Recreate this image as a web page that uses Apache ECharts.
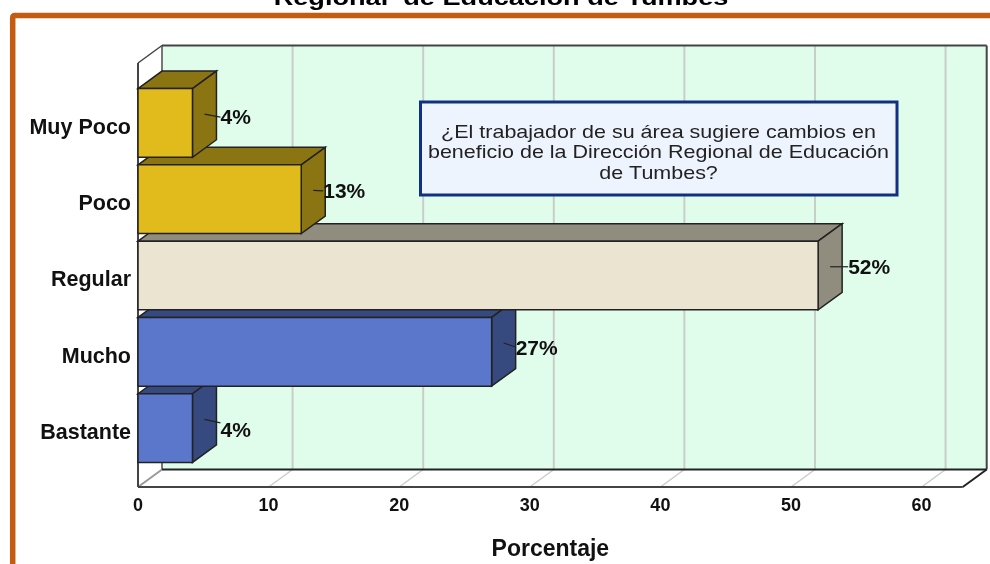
<!DOCTYPE html>
<html><head><meta charset="utf-8">
<style>html,body{margin:0;padding:0;background:#fff;overflow:hidden}#c{width:990px;height:564px}</style>
<script src="https://cdn.jsdelivr.net/npm/echarts@6/dist/echarts.min.js"></script>
</head><body><div id="c"></div>
<script>
const categories = ['Bastante', 'Mucho', 'Regular', 'Poco', 'Muy Poco'];
const values = [4.17, 27.08, 52.08, 12.5, 4.17];
const gridTicks = [0, 10, 20, 30, 40, 50, 60];
const axisMax = 63.15;
const titleText = 'Regional  de Educación de Tumbes';
const noteText = '¿El trabajador de su área sugiere cambios en\nbeneficio de la Dirección Regional de Educación\nde Tumbes?';

const frontColors = ['#5B77CC', '#5B77CC', '#EAE4D1', '#E1BA1C', '#E1BA1C'];
const darkColors = ['#374A7F', '#374A7F', '#918D7E', '#8B7513', '#8B7513'];
// label placement relative to the bar's side face: [gap from side, text drop, leader drop]
const labelPlace = [[4, 11.5, 3.5], [0, 6, 4], [6, 1, 0], [-2, 2, 0.5], [4, 4, 3]];

const FONT = '"Liberation Sans", Arial, sans-serif';
const DX = 24, DY = 17.5, TOP_EXT = 21.75, BOT_EXT = 20.75;
const EDGE = '#222222', FRAME = '#444444', GRID = '#C9CDC9';

function line(x1, y1, x2, y2, stroke, w) {
  return { type: 'line', shape: { x1, y1, x2, y2 }, style: { stroke, lineWidth: w, fill: null } };
}
function poly(points, fill, stroke, w) {
  return { type: 'polygon', shape: { points }, style: { fill, stroke, lineWidth: w } };
}

function renderFrame(params, api) {
  const cs = params.coordSys;
  const top = cs.y - TOP_EXT, bot = cs.y + cs.height + BOT_EXT;
  const x0 = cs.x, x1 = cs.x + cs.width;
  const children = [];
  if (params.dataIndex === 0) {
    children.push(poly([[x0 + DX, top - DY], [x1 + DX, top - DY], [x1 + DX, bot - DY], [x0 + DX, bot - DY]], '#E0FDEC', null, 0));
    children.push(poly([[x0, top], [x0 + DX, top - DY], [x0 + DX, bot - DY], [x0, bot]], '#FFFFFF', null, 0));
    children.push(poly([[x0, bot], [x0 + DX, bot - DY], [x1 + DX, bot - DY], [x1, bot]], '#FFFFFF', null, 0));
  }
  const x = api.coord([api.value(0), 0])[0];
  children.push(line(x + DX, top - DY, x + DX, bot - DY, params.dataIndex === 0 ? '#777' : GRID, 2));
  children.push(line(x + DX, bot - DY, x, bot, params.dataIndex === 0 ? '#999' : GRID, params.dataIndex === 0 ? 2 : 1.5));
  if (params.dataIndex === params.dataInsideLength - 1) {
    children.push(line(x0, top, x0 + DX, top - DY, FRAME, 1.5));
    children.push(line(x0 + DX, top - DY, x1 + DX, top - DY, FRAME, 2));
    children.push(line(x1 + DX, top - DY, x1 + DX, bot - DY, FRAME, 2));
    children.push(line(x0 + DX, bot - DY, x1 + DX, bot - DY, '#222', 2));
    children.push(line(x1 + DX, bot - DY, x1, bot, '#222', 2));
    children.push(line(x0, bot, x1, bot, FRAME, 2));
    children.push(line(x0, top, x0, bot, FRAME, 2));
  }
  return { type: 'group', children };
}

function renderBar(params, api) {
  const i = params.dataIndex;
  const v = api.value(0), c = api.value(1);
  const p0 = api.coord([0, c]), p1 = api.coord([v, c]);
  const h = api.size([0, 1])[1] * 0.9;
  const xa = p0[0], xb = p1[0], yt = p0[1] - h / 2, yb = p0[1] + h / 2;
  const place = labelPlace[i];
  const sx = xb + DX / 2, sy = p0[1] - DY / 2;
  const tx = xb + DX + place[0];
  return {
    type: 'group',
    children: [
      poly([[xa, yt], [xa + DX, yt - DY], [xb + DX, yt - DY], [xb, yt]], darkColors[i], EDGE, 1.5),
      poly([[xb, yt], [xb + DX, yt - DY], [xb + DX, yb - DY], [xb, yb]], darkColors[i], EDGE, 1.5),
      { type: 'rect', shape: { x: xa, y: yt, width: xb - xa, height: h }, style: { fill: frontColors[i], stroke: EDGE, lineWidth: 1.5 } },
      line(sx, sy, tx, sy + place[2], '#222', 1.2),
      { type: 'text', style: { x: tx, y: sy + place[1], text: Math.round(v) + '%', fill: '#111', font: 'bold 21px ' + FONT, textAlign: 'left', textVerticalAlign: 'middle' } }
    ]
  };
}

const chart = echarts.init(document.getElementById('c'), null, { renderer: 'canvas' });
chart.setOption({
  animation: false,
  backgroundColor: '#fff',
  grid: { left: 138, top: 84.75, width: 824.7, height: 381.5, outerBoundsMode: 'none' },
  xAxis: {
    type: 'value', min: 0, max: axisMax, interval: 10, offset: 20.75,
    axisLine: { show: false }, axisTick: { show: false }, splitLine: { show: false },
    axisLabel: { margin: 10, showMaxLabel: false, color: '#111', fontFamily: FONT, fontWeight: 'bold', fontSize: 18 },
    name: 'Porcentaje', nameLocation: 'middle', nameGap: 51,
    nameTextStyle: { fontFamily: FONT, fontWeight: 'bold', fontSize: 23, color: '#111' }
  },
  yAxis: {
    type: 'category', data: categories,
    axisLine: { show: false }, axisTick: { show: false }, splitLine: { show: false },
    axisLabel: { margin: 7, verticalAlign: 'top', lineHeight: 10, color: '#111', fontFamily: FONT, fontWeight: 'bold', fontSize: 21.5 }
  },
  series: [
    { type: 'custom', silent: true, z: 1, data: gridTicks.map(t => [t]), encode: { x: 0 }, renderItem: renderFrame },
    { type: 'custom', silent: true, z: 3, data: values.map((v, i) => [v, i]), encode: { x: 0, y: 1 }, renderItem: renderBar }
  ],
  graphic: [
    { type: 'text', z: 12, silent: true, x: 501, y: 9.5, scaleX: 1.233, style: { x: 0, y: 0, text: titleText, fill: '#000',
      font: 'bold 22px ' + FONT, textAlign: 'center', textVerticalAlign: 'bottom' } },
    { type: 'rect', z: 0, silent: true, shape: { x: 12.7, y: 15.4, width: 1040, height: 640, r: 2 },
      style: { fill: 'transparent', stroke: '#C55A11', lineWidth: 5.5 } },
    { type: 'rect', z: 10, silent: true, shape: { x: 420.5, y: 102, width: 476.5, height: 93 },
      style: { fill: '#EEF4FD', stroke: '#123083', lineWidth: 3 } },
    { type: 'text', z: 11, silent: true, x: 658.5, y: 153, scaleX: 1.131, style: { x: 0, y: 0, text: noteText, fill: '#222',
      font: '19px ' + FONT, lineHeight: 20.5, textAlign: 'center', textVerticalAlign: 'middle' } }
  ]
});
</script></body></html>
